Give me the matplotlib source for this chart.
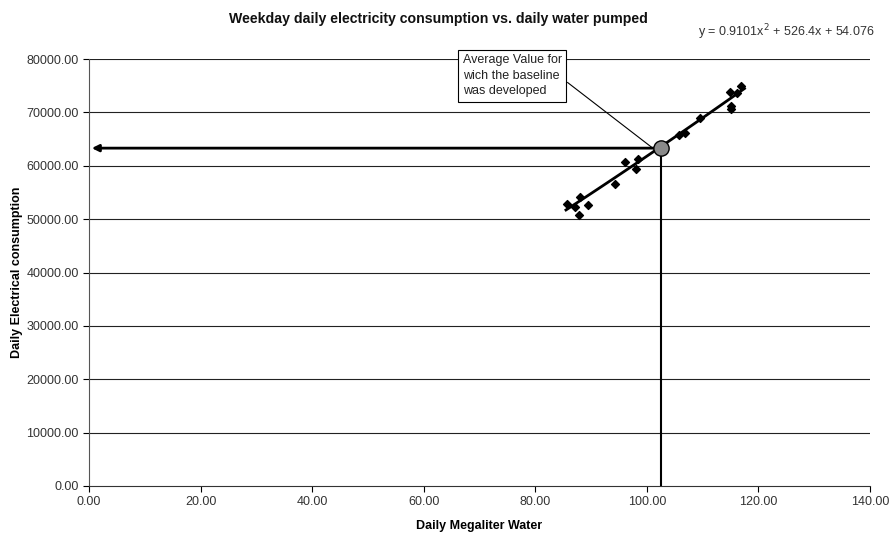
import matplotlib
matplotlib.use("Agg")
import matplotlib.pyplot as plt
import numpy as np

plt.rcParams['font.family'] = ['Liberation Sans', 'DejaVu Sans']

water = [85.7, 87.1, 88.0, 87.9, 89.4, 94.3, 96.1, 98.4, 98.0,
         105.8, 106.9, 109.6, 114.9, 116.1, 116.8, 115.05, 115.1]
energy = [52790, 52340, 54220, 50790, 52660, 56600, 60620, 61220, 59410,
          65780, 66210, 69020, 73740, 73590, 75020, 70590, 71200]
coef = [0.9101, 526.4, 54.076]
avg_x, avg_y = 102.5, 63300
xticks = [0, 20, 40, 60, 80, 100, 120, 140]
yticks = [0, 10000, 20000, 30000, 40000, 50000, 60000, 70000, 80000]

fig = plt.figure(figsize=(8.91, 5.35), dpi=100)
ax = fig.add_axes([89/891, 49/535, 781/891, 427/535])
ax.set_xlim(0, 140)
ax.set_ylim(0, 80000)

for yv in yticks[1:]:
    ax.axhline(yv, color='#222222', lw=0.8, zorder=1)

ax.scatter(water, energy, marker='D', s=16, color='black', zorder=3)
xs = np.linspace(85.5, 117.5, 50)
ax.plot(xs, np.polyval(coef, xs), color='black', lw=2, zorder=3)

# reference lines
ax.annotate('', xy=(0.5, avg_y), xytext=(avg_x, avg_y),
            arrowprops=dict(arrowstyle='-|>', color='black', lw=2,
                            mutation_scale=10, shrinkA=0, shrinkB=0), zorder=4)
ax.plot([avg_x, avg_x], [0, avg_y], color='black', lw=1.5, zorder=4)
ax.plot([avg_x], [avg_y], marker='o', ms=11, mfc='#8a8a8a', mec='black', mew=1, zorder=6)

# callout
ax.plot([85.8, 100.9], [75590, 63430], color='black', lw=0.8, zorder=5)
ax.text(67.0, 80900, 'Average Value for\nwich the baseline\nwas developed',
        fontsize=9, va='top', ha='left', color='#222222', linespacing=1.4,
        bbox=dict(boxstyle='square,pad=0.35', fc='white', ec='black', lw=0.8),
        zorder=7, clip_on=False)

ax.set_xticks(xticks)
ax.set_xticklabels([f'{v:.2f}' for v in xticks])
ax.set_yticks(yticks)
ax.set_yticklabels([f'{v:.2f}' for v in yticks])
ax.tick_params(labelsize=9, labelcolor='#333333', direction='out', length=4, width=0.8)

for s in ['top', 'right']:
    ax.spines[s].set_visible(False)
ax.spines['left'].set_color('#555555')
ax.spines['bottom'].set_color('#333333')

ax.set_xlabel('Daily Megaliter Water', fontsize=9, fontweight='bold', labelpad=8)
ax.set_ylabel('Daily Electrical consumption', fontsize=9, fontweight='bold', labelpad=2)

fig.text(438/891, 1 - 19/535, 'Weekday daily electricity consumption vs. daily water pumped',
         fontsize=10.2, fontweight='bold', ha='center', va='center', color='#111111')
fig.text(786/891, 1 - 32/535, r'y = 0.9101x$^2$ + 526.4x + 54.076',
         fontsize=9, ha='center', va='center', color='#333333')

fig.savefig('out.png', dpi=100)
